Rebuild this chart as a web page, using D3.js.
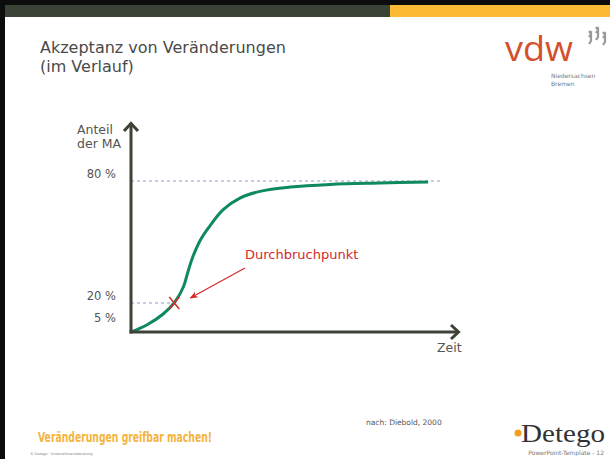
<!DOCTYPE html>
<html>
<head>
<meta charset="utf-8">
<script src="https://cdn.jsdelivr.net/npm/d3@7"></script>
<style>
  body { margin: 0; background: #fff; }
  svg { display: block; font-family: "DejaVu Sans", sans-serif; }
</style>
</head>
<body>
<div id="chart"></div>
<script>
// curve: time (arbitrary units 0..100) and share of staff in %
var timeVals = [0, 4.8, 9.8, 13.4, 16, 17.3, 18.8, 21, 23.6, 28.1, 33.2, 39.3, 48.5, 60.7, 75.9, 90.6];
var shareVals = [0, 4.8, 12.4, 20.6, 28, 35, 42.5, 50.5, 56.9, 65.9, 71.6, 74.9, 77, 78.3, 79, 79.5];
var tickVals = [5, 20, 80];
var tickLabels = ["5 %", "20 %", "80 %"];
var guideVals = [20, 80];          // dashed helper lines
var guideEnds = [13.2, 95];        // where each helper line stops (time units)
var breakPoint = {t: 13.2, v: 20}; // Durchbruchpunkt

var W = 610, H = 459;
var svg = d3.select("#chart").append("svg")
    .attr("width", W).attr("height", H);

// the slide is not drawn to scale: 0-20 % takes less room than 20-80 %
var x = d3.scaleLinear().domain([0, 100]).range([131, 459]);
var y = d3.scaleLinear().domain([0, 20, 80]).range([332, 303, 181]);

// slide frame
svg.append("rect").attr("x", 0).attr("y", 0).attr("width", W).attr("height", H).attr("fill", "#fff");
svg.append("rect").attr("x", 0).attr("y", 0).attr("width", W).attr("height", 5).attr("fill", "#0c0c0c");
svg.append("rect").attr("x", 0).attr("y", 0).attr("width", 5).attr("height", H).attr("fill", "#0c0c0c");
svg.append("rect").attr("x", 5).attr("y", 5).attr("width", 385).attr("height", 12).attr("fill", "#3b4236");
svg.append("rect").attr("x", 390).attr("y", 5).attr("width", W - 390).attr("height", 12).attr("fill", "#fbb934");

// title
svg.append("text").attr("x", 40).attr("y", 53).attr("font-size", 16).attr("fill", "#4a4a4a")
    .text("Akzeptanz von Veränderungen");
svg.append("text").attr("x", 40).attr("y", 72).attr("font-size", 16).attr("fill", "#4a4a4a")
    .text("(im Verlauf)");

// vdw logo
svg.append("text").attr("x", 505).attr("y", 61).attr("font-size", 35).attr("fill", "#d2502a")
    .attr("font-family", "'Open Sans', sans-serif").attr("textLength", 68).attr("lengthAdjust", "spacingAndGlyphs")
    .text("vdw");
svg.append("text").attr("x", 551).attr("y", 78).attr("font-size", 6).attr("fill", "#777").text("Niedersachsen");
svg.append("text").attr("x", 551).attr("y", 86).attr("font-size", 6).attr("fill", "#777").text("Bremen");
var marks = [[589, 37], [596, 33], [603, 38]];
marks.forEach(function(m) {
    svg.append("circle").attr("cx", m[0] + 1).attr("cy", m[1] - 5).attr("r", 1.6).attr("fill", "#999");
    svg.append("path")
        .attr("d", "M" + m[0] + "," + m[1] + " l2,-3 l0,7 l-2,3")
        .attr("fill", "none").attr("stroke", "#999").attr("stroke-width", 2.2);
});

// dashed helper lines
var chart = svg.append("g");
guideVals.forEach(function(v, i) {
    chart.append("line")
        .attr("x1", x(0)).attr("x2", x(guideEnds[i]))
        .attr("y1", y(v)).attr("y2", y(v))
        .attr("stroke", "#8e9ac8").attr("stroke-width", 1)
        .attr("stroke-dasharray", "3,3");
});

// curve
var line = d3.line()
    .x(function(d) { return x(d[0]); })
    .y(function(d) { return y(d[1]); })
    .curve(d3.curveCatmullRom.alpha(0.5));
chart.append("path")
    .datum(d3.zip(timeVals, shareVals))
    .attr("fill", "none").attr("stroke", "#0f8a5f").attr("stroke-width", 3)
    .attr("stroke-linejoin", "round")
    .attr("d", line);

// axes with arrows
var axisColor = "#3d4236";
chart.append("line").attr("x1", x(0)).attr("x2", x(0)).attr("y1", y(0) + 1.5).attr("y2", 124)
    .attr("stroke", axisColor).attr("stroke-width", 3);
chart.append("path").attr("d", "M" + (x(0) - 7) + ",131 L" + x(0) + ",123.5 L" + (x(0) + 7) + ",131")
    .attr("fill", "none").attr("stroke", axisColor).attr("stroke-width", 3);
chart.append("line").attr("x1", x(0) - 1.5).attr("x2", x(100) - 1).attr("y1", y(0)).attr("y2", y(0))
    .attr("stroke", axisColor).attr("stroke-width", 3);
chart.append("path").attr("d", "M" + (x(100) - 8) + "," + (y(0) - 7) + " L" + (x(100) - 0.5) + "," + y(0) + " L" + (x(100) - 8) + "," + (y(0) + 7))
    .attr("fill", "none").attr("stroke", axisColor).attr("stroke-width", 3);

// tick labels
chart.selectAll("text.tick").data(tickVals).enter().append("text")
    .attr("class", "tick")
    .attr("x", 116).attr("y", function(d) { return y(d) - 3; })
    .attr("text-anchor", "end").attr("font-size", 11.5).attr("fill", "#555")
    .text(function(d, i) { return tickLabels[i]; });

chart.append("text").attr("x", 77).attr("y", 134).attr("font-size", 12.5).attr("fill", "#555").text("Anteil");
chart.append("text").attr("x", 77).attr("y", 148).attr("font-size", 12.5).attr("fill", "#555").text("der MA");
chart.append("text").attr("x", 437).attr("y", 352).attr("font-size", 12.5).attr("fill", "#555").text("Zeit");

// breakthrough point
var red = "#d42a2a";
var bx = x(breakPoint.t), by = y(breakPoint.v);
chart.append("path").attr("d", "M" + (bx - 5) + "," + (by - 6) + " L" + (bx + 5) + "," + (by + 6) + " M" + (bx + 5) + "," + (by - 6) + " L" + (bx - 5) + "," + (by + 6))
    .attr("stroke", red).attr("stroke-width", 1.5).attr("fill", "none");
chart.append("text").attr("x", 245).attr("y", 259).attr("font-size", 13).attr("fill", red).text("Durchbruchpunkt");
svg.append("defs").append("marker").attr("id", "arr")
    .attr("viewBox", "0 0 10 10").attr("refX", 9).attr("refY", 5)
    .attr("markerWidth", 7).attr("markerHeight", 7).attr("orient", "auto")
    .append("path").attr("d", "M0,1 L10,5 L0,9 L3,5 Z").attr("fill", red);
chart.append("line").attr("x1", 245).attr("y1", 268).attr("x2", bx + 16).attr("y2", by - 5)
    .attr("stroke", red).attr("stroke-width", 1.2).attr("marker-end", "url(#arr)");

// footer
svg.append("text").attr("x", 366).attr("y", 425).attr("font-size", 7.5).attr("fill", "#555").text("nach: Diebold, 2000");
svg.append("text").attr("x", 38).attr("y", 442).attr("font-size", 14).attr("fill", "#f5b43c")
    .attr("font-family", "'Liberation Sans Narrow', 'DejaVu Sans Condensed', sans-serif")
    .attr("font-weight", "bold")
    .attr("textLength", 174).attr("lengthAdjust", "spacingAndGlyphs")
    .text("Veränderungen greifbar machen!");
svg.append("text").attr("x", 30).attr("y", 455).attr("font-size", 3.5).attr("fill", "#888")
    .text("© Detego  ·  Unternehmensberatung");
svg.append("text").attr("x", 604).attr("y", 455).attr("text-anchor", "end").attr("font-size", 6).attr("fill", "#777")
    .text("PowerPoint-Template  -  12");
svg.append("circle").attr("cx", 518).attr("cy", 433).attr("r", 3.5).attr("fill", "#f0a020");
svg.append("text").attr("x", 521).attr("y", 442).attr("font-size", 25).attr("fill", "#333")
    .attr("font-family", "'Liberation Serif', serif").attr("textLength", 84).attr("lengthAdjust", "spacingAndGlyphs")
    .text("Detego");
</script>
</body>
</html>
